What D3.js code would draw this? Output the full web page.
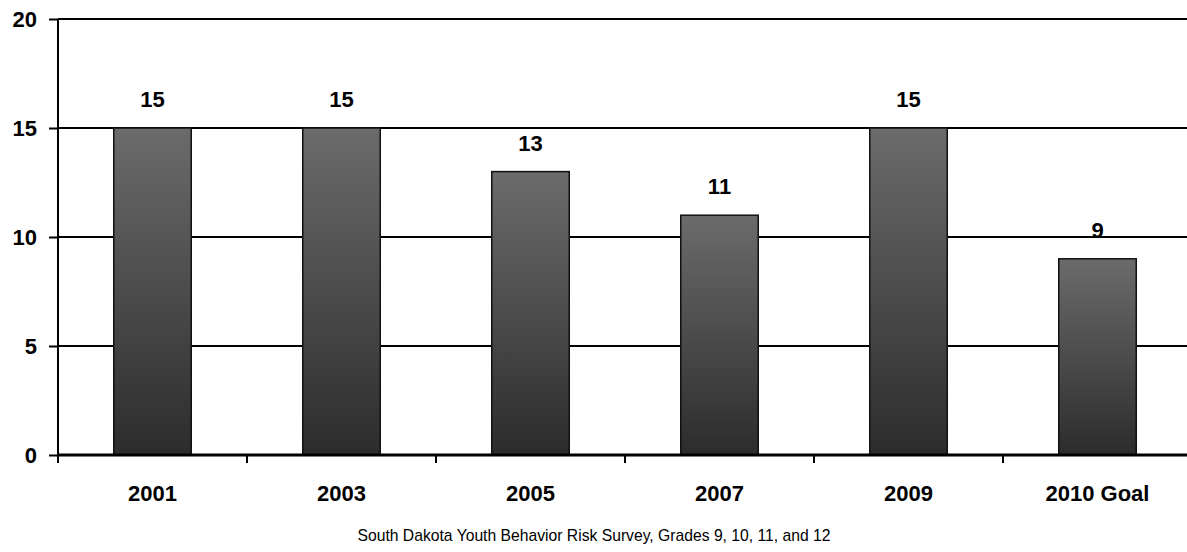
<!DOCTYPE html>
<html>
<head>
<meta charset="utf-8">
<script src="https://cdn.jsdelivr.net/npm/d3@7"></script>
<style>
  body { margin: 0; background: #fff; }
  svg { display: block; font-family: "Liberation Sans", Arial, sans-serif; }
</style>
</head>
<body>
<div id="chart"></div>
<script>
// data
const categories = ['2001', '2003', '2005', '2007', '2009', '2010 Goal'];
const values = [15, 15, 13, 11, 15, 9];
const yTicks = [0, 5, 10, 15, 20];
const footnote = 'South Dakota Youth Behavior Risk Survey, Grades 9, 10, 11, and 12';

const width = 1187;
const height = 552;
const margin = {top: 19, left: 58, bottom: 97};
const bandW = 189;

const svg = d3.select('#chart')
  .append('svg')
  .attr('width', width)
  .attr('height', height);

const defs = svg.append('defs');
const grad = defs.append('linearGradient')
  .attr('id', 'barGrad')
  .attr('x1', 0).attr('y1', 0).attr('x2', 0).attr('y2', 1);
grad.append('stop').attr('offset', '0%').attr('stop-color', '#6b6b6b');
grad.append('stop').attr('offset', '100%').attr('stop-color', '#2c2c2c');

const xScale = d3.scaleBand()
  .domain(categories)
  .range([margin.left, margin.left + bandW * categories.length])
  .paddingInner(0.59)
  .paddingOuter(0.295);

const yScale = d3.scaleLinear()
  .domain([0, 20])
  .range([height - margin.bottom, margin.top]);

// gridlines
svg.append('g')
  .selectAll('line')
  .data(yTicks.filter(d => d > 0))
  .enter().append('line')
  .attr('x1', margin.left).attr('x2', width)
  .attr('y1', d => yScale(d)).attr('y2', d => yScale(d))
  .attr('stroke', '#000').attr('stroke-width', 2);

// bars
svg.append('g')
  .selectAll('rect')
  .data(values)
  .enter().append('rect')
  .attr('x', (d, i) => xScale(categories[i]))
  .attr('y', d => yScale(d))
  .attr('width', xScale.bandwidth())
  .attr('height', d => yScale(0) - yScale(d))
  .attr('fill', 'url(#barGrad)')
  .attr('stroke', '#111')
  .attr('stroke-width', 1.5);

// value labels
svg.append('g')
  .selectAll('text')
  .data(values)
  .enter().append('text')
  .attr('x', (d, i) => xScale(categories[i]) + xScale.bandwidth() / 2)
  .attr('y', d => yScale(d) - 21)
  .attr('text-anchor', 'middle')
  .attr('font-size', 22)
  .attr('font-weight', 'bold')
  .text(d => d);

// y axis
const yAxis = d3.axisLeft(yScale)
  .tickValues(yTicks)
  .tickSize(9)
  .tickPadding(12)
  .tickFormat(d => d);

const yG = svg.append('g')
  .attr('transform', `translate(${margin.left},0)`)
  .call(yAxis);
yG.select('.domain').attr('stroke-width', 2).attr('d', `M0,${yScale(20)}V${yScale(0)}`);
yG.selectAll('.tick line').attr('stroke-width', 2);
yG.selectAll('text')
  .attr('font-size', 22)
  .attr('font-weight', 'bold')
  .attr('font-family', '"Liberation Sans", Arial, sans-serif')
  .attr('fill', '#000');

// x axis line and ticks between categories
const x0 = yScale(0);
svg.append('line')
  .attr('x1', margin.left).attr('x2', width)
  .attr('y1', x0).attr('y2', x0)
  .attr('stroke', '#000').attr('stroke-width', 3);

svg.append('g')
  .selectAll('line')
  .data(d3.range(categories.length + 1))
  .enter().append('line')
  .attr('x1', i => margin.left + i * bandW).attr('x2', i => margin.left + i * bandW)
  .attr('y1', x0).attr('y2', x0 + 8)
  .attr('stroke', '#000').attr('stroke-width', 2);

svg.append('g')
  .selectAll('text')
  .data(categories)
  .enter().append('text')
  .attr('x', d => xScale(d) + xScale.bandwidth() / 2)
  .attr('y', x0 + 46)
  .attr('text-anchor', 'middle')
  .attr('font-size', 22)
  .attr('font-weight', 'bold')
  .text(d => d);

svg.append('text')
  .attr('x', 594)
  .attr('y', 541)
  .attr('text-anchor', 'middle')
  .attr('font-size', 15.7)
  .text(footnote);
</script>
</body>
</html>
